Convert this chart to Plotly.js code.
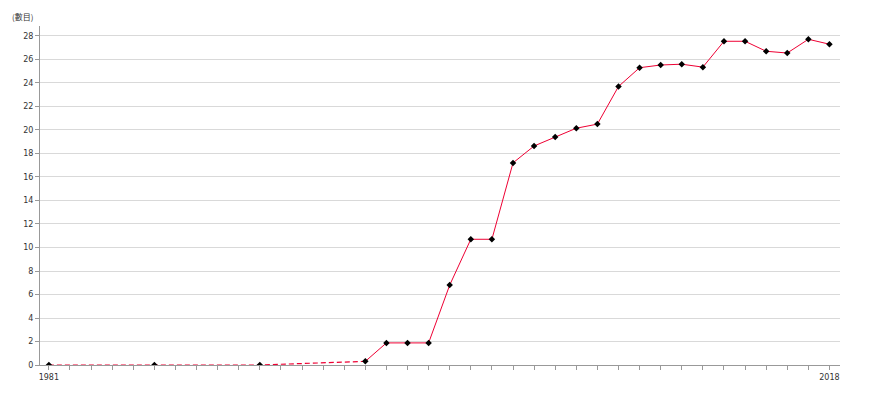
<!DOCTYPE html>
<html>
<head>
<meta charset="utf-8">
<script src="https://cdn.plot.ly/plotly-3.0.1.min.js"></script>
<style>body{margin:0;padding:0;background:#fff;}</style>
</head>
<body>
<div id="chart" style="width:870px;height:400px;"></div>
<script>
// Early survey years (dashed connection)
const surveyYears = [1981, 1986, 1991];
const surveyValues = [0, 0, 0];
// Annual series
const annualYears = [1996, 1997, 1998, 1999, 2000, 2001, 2002, 2003, 2004, 2005, 2006, 2007,
  2008, 2009, 2010, 2011, 2012, 2013, 2014, 2015, 2016, 2017, 2018];
const annualValues = [0.31, 1.88, 1.88, 1.88, 6.8, 10.7, 10.7, 17.2, 18.64, 19.4, 20.15, 20.5,
  23.7, 25.3, 25.53, 25.6, 25.35, 27.55, 27.55, 26.7, 26.55, 27.72, 27.3];
// Axis ticks
const xTickYears = [];
for (let y = 1981; y <= 2018; y++) xTickYears.push(y);
const xTickLabels = xTickYears.map(y => (y === 1981 || y === 2018) ? String(y) : '');
const yTickVals = [0, 2, 4, 6, 8, 10, 12, 14, 16, 18, 20, 22, 24, 26, 28];
const unitLabel = '(數目)';

const red = '#ee0033';
const dashX = surveyYears.concat([annualYears[0]]);
const dashY = surveyValues.concat([annualValues[0]]);

const traces = [
  {x: dashX, y: dashY, mode: 'lines', line: {color: red, width: 1.2, dash: '5px,3px'}, hoverinfo: 'skip'},
  {x: annualYears, y: annualValues, mode: 'lines', line: {color: red, width: 1}},
  {x: surveyYears.concat(annualYears), y: surveyValues.concat(annualValues), mode: 'markers',
   marker: {symbol: 'diamond', size: 5, color: '#000'}}
];

const layout = {
  width: 870, height: 400,
  margin: {l: 40, r: 30, t: 26, b: 35},
  showlegend: false,
  paper_bgcolor: '#fff', plot_bgcolor: '#fff',
  font: {family: 'DejaVu Sans, sans-serif', size: 8, color: '#333'},
  xaxis: {
    range: [1980.58, 2018.5],
    tickmode: 'array', tickvals: xTickYears, ticktext: xTickLabels,
    ticks: 'outside', ticklen: 4, tickcolor: '#999', tickwidth: 1,
    showline: true, linecolor: '#999', linewidth: 1,
    showgrid: false, zeroline: false,
    tickfont: {size: 8, color: '#333'}
  },
  yaxis: {
    range: [0, 28.85],
    tickmode: 'array', tickvals: yTickVals,
    ticks: 'outside', ticklen: 4, tickcolor: '#999', tickwidth: 1,
    showline: true, linecolor: '#999', linewidth: 1,
    showgrid: true, gridcolor: '#d9d9d9', gridwidth: 1,
    zeroline: false,
    tickfont: {size: 8, color: '#333'}
  },
  annotations: [{
    text: unitLabel, xref: 'paper', yref: 'paper', x: -0.038, y: 1.027,
    xanchor: 'left', yanchor: 'middle', showarrow: false,
    font: {size: 8, color: '#333', family: 'Noto Sans CJK TC, DejaVu Sans, sans-serif'}
  }]
};

Plotly.newPlot('chart', traces, layout, {displayModeBar: false, staticPlot: true});
</script>
</body>
</html>
